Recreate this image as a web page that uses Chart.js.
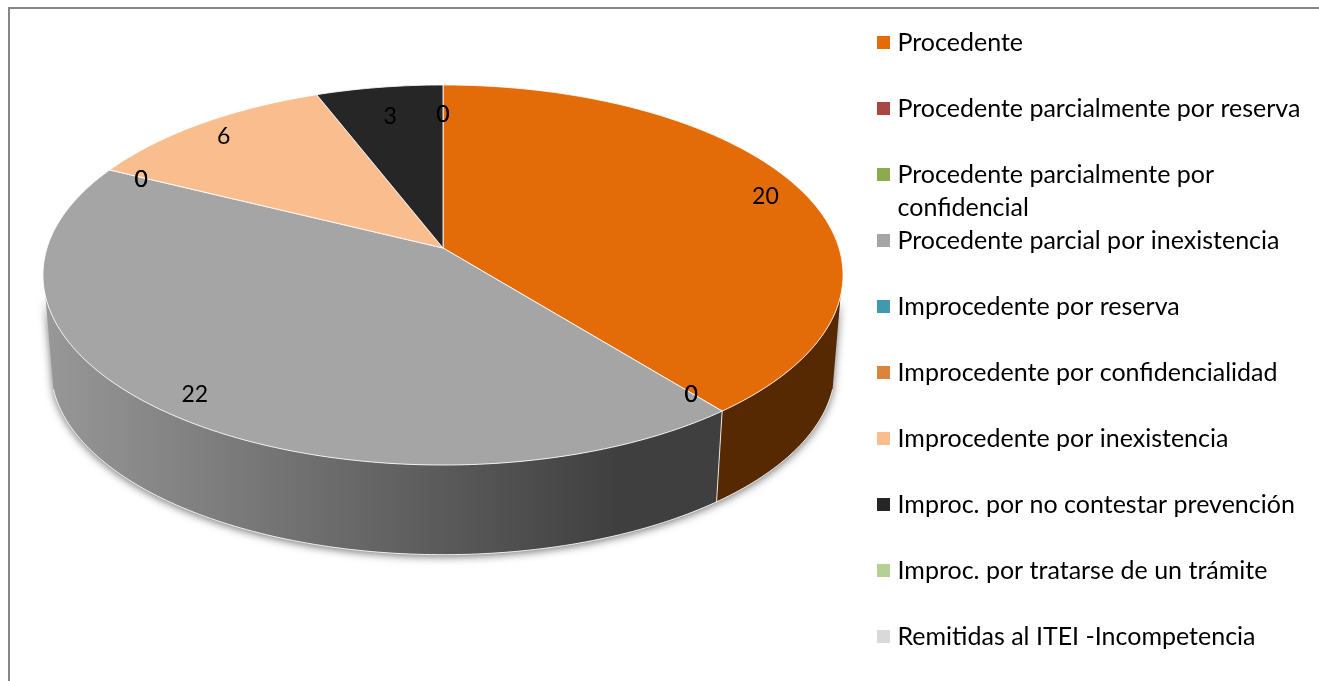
<!DOCTYPE html>
<html lang="es">

<head>
    <meta charset="utf-8" />
    <title>Resoluciones</title>
    <style>
        html, body { margin: 0; height: 100%; overflow: hidden; background: #fff; }
        .frame { position: absolute; left: 8px; top: 7px; right: -10px; bottom: -10px; border-left: 2px solid #868686; border-top: 2px solid #868686; }
        #mychart { position: absolute; left: 0; top: 0; }
    </style>
</head>

<body>
    <div class="frame"></div>
    <canvas id="mychart" width="1319" height="760"></canvas>
    <script src="https://cdn.jsdelivr.net/npm/chart.js@4/dist/chart.umd.min.js"></script>
    <script>
        // datos
        const labels = [
            ['Procedente'],
            ['Procedente parcialmente por reserva'],
            ['Procedente parcialmente por', 'confidencial'],
            ['Procedente parcial por inexistencia'],
            ['Improcedente por reserva'],
            ['Improcedente por confidencialidad'],
            ['Improcedente por inexistencia'],
            ['Improc. por no contestar prevención'],
            ['Improc. por tratarse de un trámite'],
            ['Remitidas al ITEI -Incompetencia'],
        ];
        const values = [20, 0, 0, 22, 0, 0, 6, 3, 0, 0];
        const colors = ['#e36c09', '#aa4644', '#8caa4e', '#a5a5a5', '#4198af', '#db843d', '#f9bd8e', '#262626', '#b6cf94', '#d9d9d9'];

        const FONT = 'Lato';
        const FONT_SIZE = 25;
        const LABEL_SIZE = 23;
        const BOX = 13;

        // perspectiva del disco
        const cx = 443, cy = 248, a = 396, b = 186.2, c = -0.142;
        const wallTop = (14.5 * Math.PI) / 180, wallEnd = (165.5 * Math.PI) / 180;
        const legendLeft = 877, legendTop = -11, legendPad = 41;

        function project(t, r, bottom) {
            const u = r * Math.cos(t), v = r * Math.sin(t), d = 1 + c * v;
            let x = cx + (a * u) / d, y = cy + (b * v) / d;
            if (bottom) {
                x = cx + (x - cx) * 0.98;
                y = cy + (y - cy) * 0.98 + 94;
            }
            return [x, y];
        }

        function arcPoints(t0, t1, bottom) {
            const n = Math.max(2, Math.ceil(Math.abs(t1 - t0) * 60));
            const pts = [];
            for (let i = 0; i <= n; i++) pts.push(project(t0 + ((t1 - t0) * i) / n, 1, bottom));
            return pts;
        }

        function trace(ctx, pts) {
            ctx.beginPath();
            pts.forEach((p, i) => (i ? ctx.lineTo(p[0], p[1]) : ctx.moveTo(p[0], p[1])));
        }

        function shade(hex, f) {
            const n = parseInt(hex.slice(1), 16);
            return `rgb(${((n >> 16) & 255) * f},${((n >> 8) & 255) * f},${(n & 255) * f})`;
        }

        const pie3d = {
            id: 'pie3d',
            afterLayout(chart) {
                chart.legend.top = legendTop;
                chart.legend.left = legendLeft - legendPad;
            },
            beforeDatasetsDraw(chart) {
                const ctx = chart.ctx;
                const arcs = chart.getDatasetMeta(0).data;
                ctx.save();

                // sombra bajo el cilindro
                ctx.save();
                ctx.shadowColor = 'rgba(0,0,0,0.55)';
                ctx.shadowBlur = 9;
                ctx.shadowOffsetY = 2;
                ctx.fillStyle = '#bbb';
                trace(ctx, arcPoints(wallTop, wallEnd, true).concat(arcPoints(wallEnd, wallTop, false)));
                ctx.fill();
                ctx.restore();

                // paredes
                arcs.forEach((arc, i) => {
                    const t0 = Math.max(arc.startAngle, wallTop), t1 = Math.min(arc.endAngle, wallEnd);
                    if (t1 <= t0) return;
                    const g = ctx.createLinearGradient(43, 0, 843, 0);
                    g.addColorStop(0, shade(colors[i], 0.92));
                    g.addColorStop(0.72, shade(colors[i], 0.38));
                    g.addColorStop(1, shade(colors[i], 0.38));
                    ctx.fillStyle = g;
                    trace(ctx, arcPoints(t0, t1, false).concat(arcPoints(t1, t0, true)));
                    ctx.closePath();
                    ctx.fill();
                });
                ctx.strokeStyle = 'rgba(255,255,255,0.85)';
                ctx.lineWidth = 1;
                trace(ctx, arcPoints(wallTop, wallEnd, true));
                ctx.stroke();
                arcs.forEach((arc) => {
                    if (arc.endAngle <= arc.startAngle || arc.endAngle <= wallTop || arc.endAngle >= wallEnd) return;
                    trace(ctx, [project(arc.endAngle, 1, false), project(arc.endAngle, 1, true)]);
                    ctx.stroke();
                });

                // cara superior
                arcs.forEach((arc, i) => {
                    if (arc.endAngle <= arc.startAngle) return;
                    ctx.fillStyle = colors[i];
                    trace(ctx, [[cx, cy]].concat(arcPoints(arc.startAngle, arc.endAngle, false)));
                    ctx.closePath();
                    ctx.fill();
                    ctx.strokeStyle = 'rgba(255,255,255,0.85)';
                    ctx.stroke();
                });

                // etiquetas
                ctx.fillStyle = '#000';
                ctx.font = `${LABEL_SIZE}px ${FONT}`;
                ctx.textAlign = 'center';
                ctx.textBaseline = 'middle';
                arcs.forEach((arc, i) => {
                    const mid = (arc.startAngle + arc.endAngle) / 2;
                    const r = Math.sin(mid) < -0.9 ? 0.81 : 0.9;
                    const p = project(mid, r, false);
                    ctx.fillText(String(values[i]), p[0], p[1] + 2);
                });
                ctx.restore();
                return false;
            },
            afterDraw(chart) {
                // cuadros de la leyenda y segunda linea
                const ctx = chart.ctx;
                ctx.save();
                ctx.font = `${FONT_SIZE}px ${FONT}`;
                ctx.textBaseline = 'middle';
                labels.forEach((lines, i) => {
                    const box = chart.legend.legendHitBoxes[i];
                    ctx.fillStyle = colors[i];
                    ctx.fillRect(box.left, box.top + (box.height - BOX) / 2, BOX, BOX);
                    if (lines.length < 2) return;
                    ctx.fillStyle = '#000';
                    ctx.fillText(lines[1], box.left + 8 + FONT_SIZE / 2, box.top + box.height / 2 + 33);
                });
                ctx.restore();
            },
        };

        new Chart(document.getElementById('mychart'), {
            type: 'pie',
            data: {
                labels: labels.map((l) => l.join(' ')),
                datasets: [{ data: values, backgroundColor: colors, borderWidth: 0 }],
            },
            options: {
                responsive: false,
                animation: false,
                plugins: {
                    tooltip: { enabled: false },
                    legend: {
                        position: 'right',
                        align: 'start',
                        labels: {
                            boxWidth: 8,
                            boxHeight: BOX,
                            padding: legendPad,
                            color: '#000',
                            font: { family: FONT, size: FONT_SIZE },
                            generateLabels(chart) {
                                const items = Chart.overrides.pie.plugins.legend.labels.generateLabels(chart);
                                items.forEach((item, i) => {
                                    item.text = labels[i][0];
                                });
                                return items;
                            },
                        },
                    },
                },
            },
            plugins: [pie3d],
        });
    </script>
</body>

</html>
